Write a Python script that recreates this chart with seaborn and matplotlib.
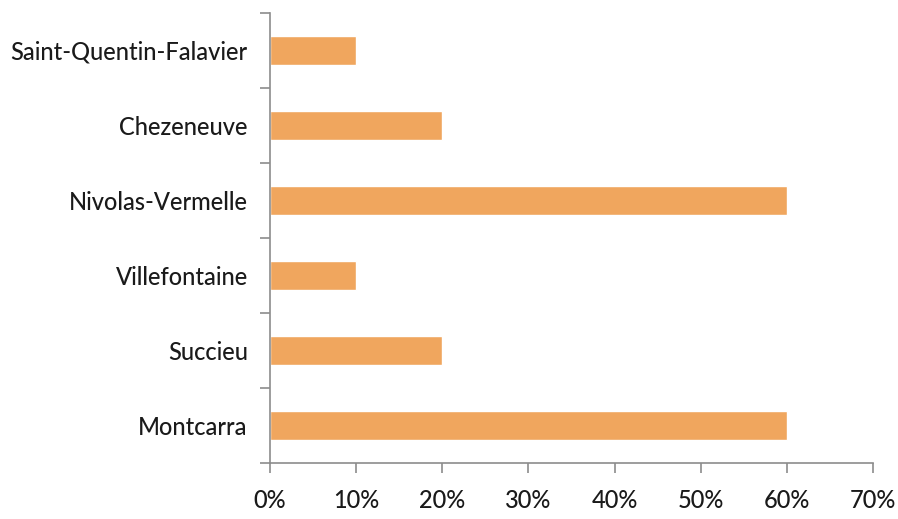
import numpy as np
import pandas as pd
import matplotlib
matplotlib.use("Agg")
import matplotlib.pyplot as plt
import seaborn as sns
from matplotlib.ticker import FixedLocator, PercentFormatter

communes = ['Saint-Quentin-Falavier', 'Chezeneuve', 'Nivolas-Vermelle',
            'Villefontaine', 'Succieu', 'Montcarra']
share = [10, 20, 60, 10, 20, 60]

df = pd.DataFrame({'Commune': communes, 'Share': share})

sns.set_style("white")
plt.rcParams['font.family'] = ['Lato', 'DejaVu Sans']

fig = plt.figure(figsize=(8.98, 5.19), dpi=100)
ax = fig.add_axes([0.3007, 0.1079, 0.972 - 0.3007, 0.975 - 0.1079])

sns.barplot(data=df, x='Share', y='Commune', order=communes, color='#F0A65E',
            saturation=1, width=0.39, ax=ax)

ax.set_xlim(0, 70)
ax.set_ylim(len(communes) - 0.5, -0.5)
ax.xaxis.set_major_locator(FixedLocator(np.arange(0, 71, 10)))
ax.xaxis.set_major_formatter(PercentFormatter(decimals=0))
ax.yaxis.set_minor_locator(FixedLocator(np.arange(-0.5, len(communes), 1)))

ax.set_xlabel('')
ax.set_ylabel('')
for s in ['top', 'right']:
    ax.spines[s].set_visible(False)
for s in ['left', 'bottom']:
    ax.spines[s].set_color('#8c8c8c')
    ax.spines[s].set_linewidth(1.2)

ax.tick_params(axis='y', which='major', length=0, pad=16, labelsize=17, labelcolor='#1a1a1a')
ax.tick_params(axis='y', which='minor', length=7, width=1.2, color='#8c8c8c', left=True)
ax.tick_params(axis='x', length=7, width=1.2, color='#8c8c8c', bottom=True,
               pad=12, labelsize=17, labelcolor='#1a1a1a')
for lab in ax.get_yticklabels() + ax.get_xticklabels():
    lab.set_fontweight('medium')

fig.savefig('out.png', dpi=100, facecolor='white')
